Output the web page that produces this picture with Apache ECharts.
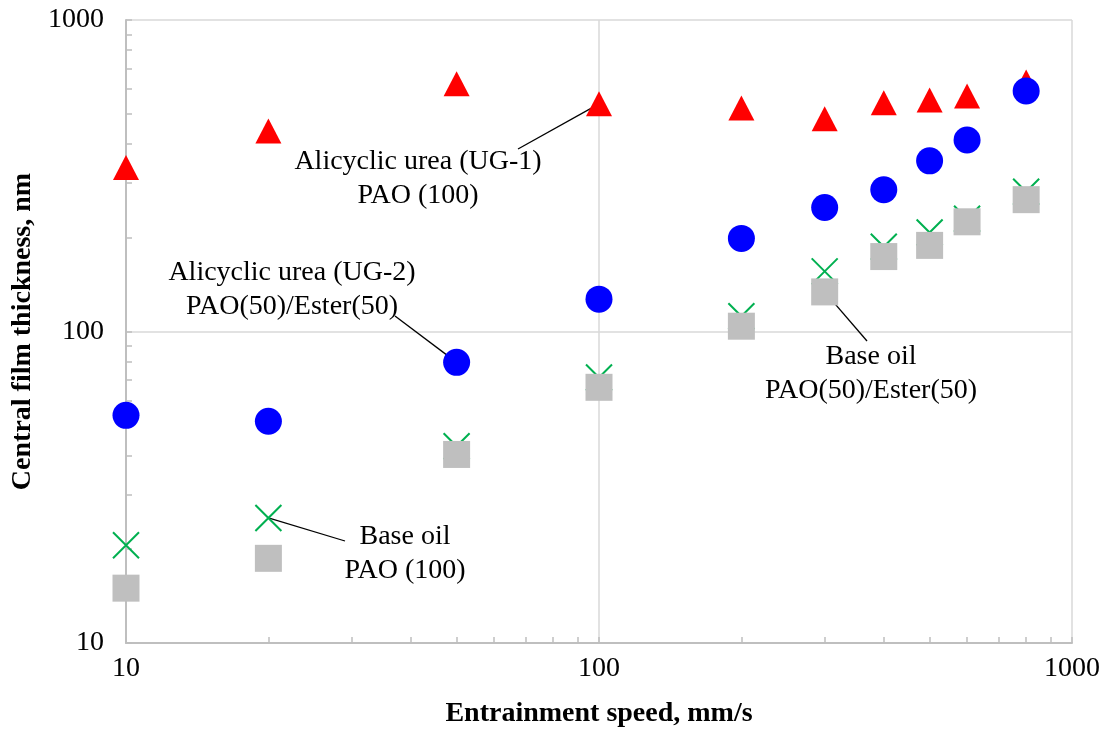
<!DOCTYPE html>
<html>
<head>
<meta charset="utf-8">
<script src="https://cdn.jsdelivr.net/npm/echarts@6/dist/echarts.min.js"></script>
<style>html,body{margin:0;padding:0;background:#fff}#c{width:1108px;height:733px}</style>
</head>
<body>
<div id="c"></div>
<script>
// Data
const speeds = [10, 20, 50, 100, 200, 300, 400, 500, 600, 800];
const ug1PAO100 = [336, 440, 624, 538, 522, 482, 542, 554, 570, 632];
const ug2PAOEster = [53.8, 51.5, 79.6, 127, 199, 250, 285, 353, 412, 592];
const basePAO100 = [20.6, 25.2, 42.8, 71.2, 112, 156, 187, 208, 230, 281];
const basePAOEster = [15.0, 18.7, 40.3, 66.2, 104, 134, 174, 189, 225, 265];
const xTicks = [10, 100, 1000];
const yTicks = [10, 100, 1000];

function pairs(ys) { return speeds.map((x, i) => [x, ys[i]]); }

const FONT = '"Liberation Serif", "Times New Roman", serif';
const chart = echarts.init(document.getElementById('c'), null, { renderer: 'canvas' });

const axisCommon = {
  type: 'log', logBase: 10, min: 10, max: 1000,
  axisLine: { show: true, lineStyle: { color: '#BFBFBF', width: 2 } },
  axisTick: { show: true, inside: true, length: 6, lineStyle: { color: '#BFBFBF', width: 1.5 } },
  minorTick: { show: true, splitNumber: 9, length: 6, lineStyle: { color: '#BFBFBF', width: 1.5 } },
  splitLine: { show: true, lineStyle: { color: '#D9D9D9', width: 1.5 } },
  axisLabel: { fontFamily: FONT, fontSize: 28, color: '#000' },
  nameLocation: 'middle',
  nameTextStyle: { fontFamily: FONT, fontSize: 28, fontWeight: 'bold', color: '#000' }
};

chart.setOption({
  animation: false,
  backgroundColor: '#fff',
  grid: { left: 126, right: 36, top: 20, bottom: 89, containLabel: false },
  xAxis: Object.assign({}, axisCommon, {
    name: 'Entrainment speed, mm/s', nameGap: 57,
    axisLabel: Object.assign({}, axisCommon.axisLabel, { margin: 12,
      formatter: v => (xTicks.indexOf(Math.round(v)) >= 0 ? String(Math.round(v)) : '') })
  }),
  yAxis: Object.assign({}, axisCommon, {
    name: 'Central film thickness, nm', nameGap: 85,
    axisLabel: Object.assign({}, axisCommon.axisLabel, { margin: 22,
      formatter: v => (yTicks.indexOf(Math.round(v)) >= 0 ? String(Math.round(v)) : '') })
  }),
  series: [
    { name: 'UG-1 PAO(100)', type: 'scatter', data: pairs(ug1PAO100), symbol: 'triangle', symbolSize: [26, 25],
      itemStyle: { color: '#FF0000', opacity: 1 }, z: 2 },
    { name: 'Base oil PAO(100)', type: 'scatter', data: pairs(basePAO100),
      symbol: 'path://M0,0L10,10M10,0L0,10', symbolSize: 26,
      itemStyle: { color: 'rgba(0,0,0,0)', borderColor: '#00B050', borderWidth: 2, opacity: 1 }, z: 3 },
    { name: 'Base oil PAO(50)/Ester(50)', type: 'scatter', data: pairs(basePAOEster), symbol: 'rect', symbolSize: 27,
      itemStyle: { color: '#BFBFBF', opacity: 1 }, z: 4 },
    { name: 'UG-2 PAO(50)/Ester(50)', type: 'scatter', data: pairs(ug2PAOEster), symbol: 'circle', symbolSize: 27,
      itemStyle: { color: '#0000FF', opacity: 1 }, z: 5 }
  ]
});

// Annotations with leader lines (end points from the chart's own scales)
const textStyle = { fontFamily: FONT, fontSize: 28, fill: '#000', textAlign: 'center', lineHeight: 34 };
const notes = [
  { text: 'Alicyclic urea (UG-1)\nPAO (100)', x: 418, y: 145, from: [518, 149], pt: [100, ug1PAO100[3]] },
  { text: 'Alicyclic urea (UG-2)\nPAO(50)/Ester(50)', x: 292, y: 256, from: [395, 316], pt: [50, ug2PAOEster[2]] },
  { text: 'Base oil\nPAO(50)/Ester(50)', x: 871, y: 340, from: [867, 341], pt: [300, basePAOEster[5]] },
  { text: 'Base oil\nPAO (100)', x: 405, y: 520, from: [345, 541], pt: [20, basePAO100[1]] }
];
const graphics = [];
notes.forEach(n => {
  const p = chart.convertToPixel({ gridIndex: 0 }, n.pt);
  graphics.push({ type: 'line', z: 1, shape: { x1: n.from[0], y1: n.from[1], x2: p[0], y2: p[1] },
    style: { stroke: '#000', lineWidth: 1.3 } });
  graphics.push({ type: 'text', z: 10, x: n.x, y: n.y, style: Object.assign({ text: n.text, textVerticalAlign: 'top' }, textStyle) });
});
chart.setOption({ graphic: graphics });
</script>
</body>
</html>
